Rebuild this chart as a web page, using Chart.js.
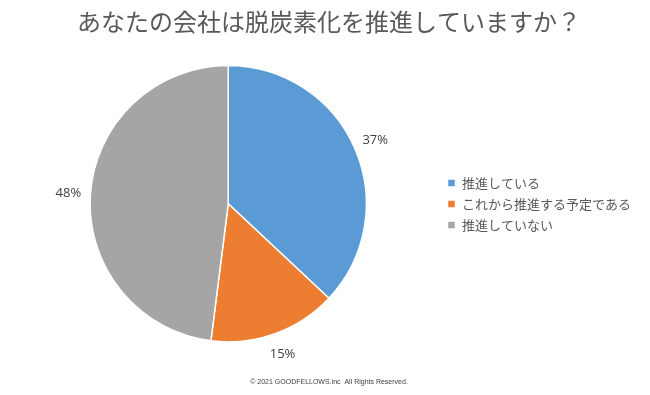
<!DOCTYPE html>
<html><head><meta charset="utf-8">
<script src="https://cdn.jsdelivr.net/npm/chart.js@4.4.0/dist/chart.umd.min.js"></script>
<style>html,body{margin:0;padding:0;background:#fff}#wrap{width:650px;height:395px}</style>
</head><body><div id="wrap"><canvas id="c"></canvas></div>
<script>
const categories = ["推進している", "これから推進する予定である", "推進していない"];
const values = [37, 15, 48];
const colors = ["#5B9BD5", "#ED7D31", "#A5A5A5"];
const titleText = "あなたの会社は脱炭素化を推進していますか？";
const footerText = "© 2021 GOODFELLOWS.inc  All Rights Reserved.";

const outLabels = {
  id: 'outLabels',
  afterDatasetsDraw(chart) {
    const ctx = chart.ctx;
    const meta = chart.getDatasetMeta(0);
    ctx.save();
    ctx.font = '13px "Open Sans", "Noto Sans", sans-serif';
    ctx.fillStyle = '#404040';
    ctx.textAlign = 'center';
    ctx.textBaseline = 'middle';
    meta.data.forEach((arc, i) => {
      const p = arc.getProps(['x','y','startAngle','endAngle','outerRadius'], true);
      const mid = (p.startAngle + p.endAngle) / 2;
      const r = p.outerRadius + 22;
      ctx.fillText(values[i] + '%', p.x + Math.cos(mid) * r, p.y + Math.sin(mid) * r);
    });
    ctx.restore();
  }
};

new Chart(document.getElementById('c'), {
  type: 'pie',
  data: {
    labels: categories,
    datasets: [{ data: values, backgroundColor: colors, borderColor: '#ffffff', borderWidth: 1.5 }]
  },
  options: {
    responsive: true,
    maintainAspectRatio: false,
    animation: false,
    layout: { padding: { left: 17, right: 9, top: 0, bottom: 0 } },
    plugins: {
      tooltip: { enabled: false },
      title: {
        display: true, text: titleText, color: '#595959',
        font: { family: '"Noto Sans CJK JP", sans-serif', size: 24, weight: 'normal' },
        padding: { top: 7, bottom: 29 }
      },
      subtitle: {
        display: true, text: footerText, position: 'bottom', color: '#404040',
        font: { family: '"Liberation Sans", Arial, sans-serif', size: 7 },
        padding: { top: 35, bottom: 9 }
      },
      legend: {
        position: 'right',
        title: { display: true, text: ' ', font: { size: 1 }, padding: 6 },
        labels: {
          color: '#595959',
          font: { family: '"Noto Sans CJK JP", sans-serif', size: 13 },
          boxWidth: 8, boxHeight: 8, padding: 8
        }
      }
    }
  },
  plugins: [outLabels]
});
</script></body></html>
